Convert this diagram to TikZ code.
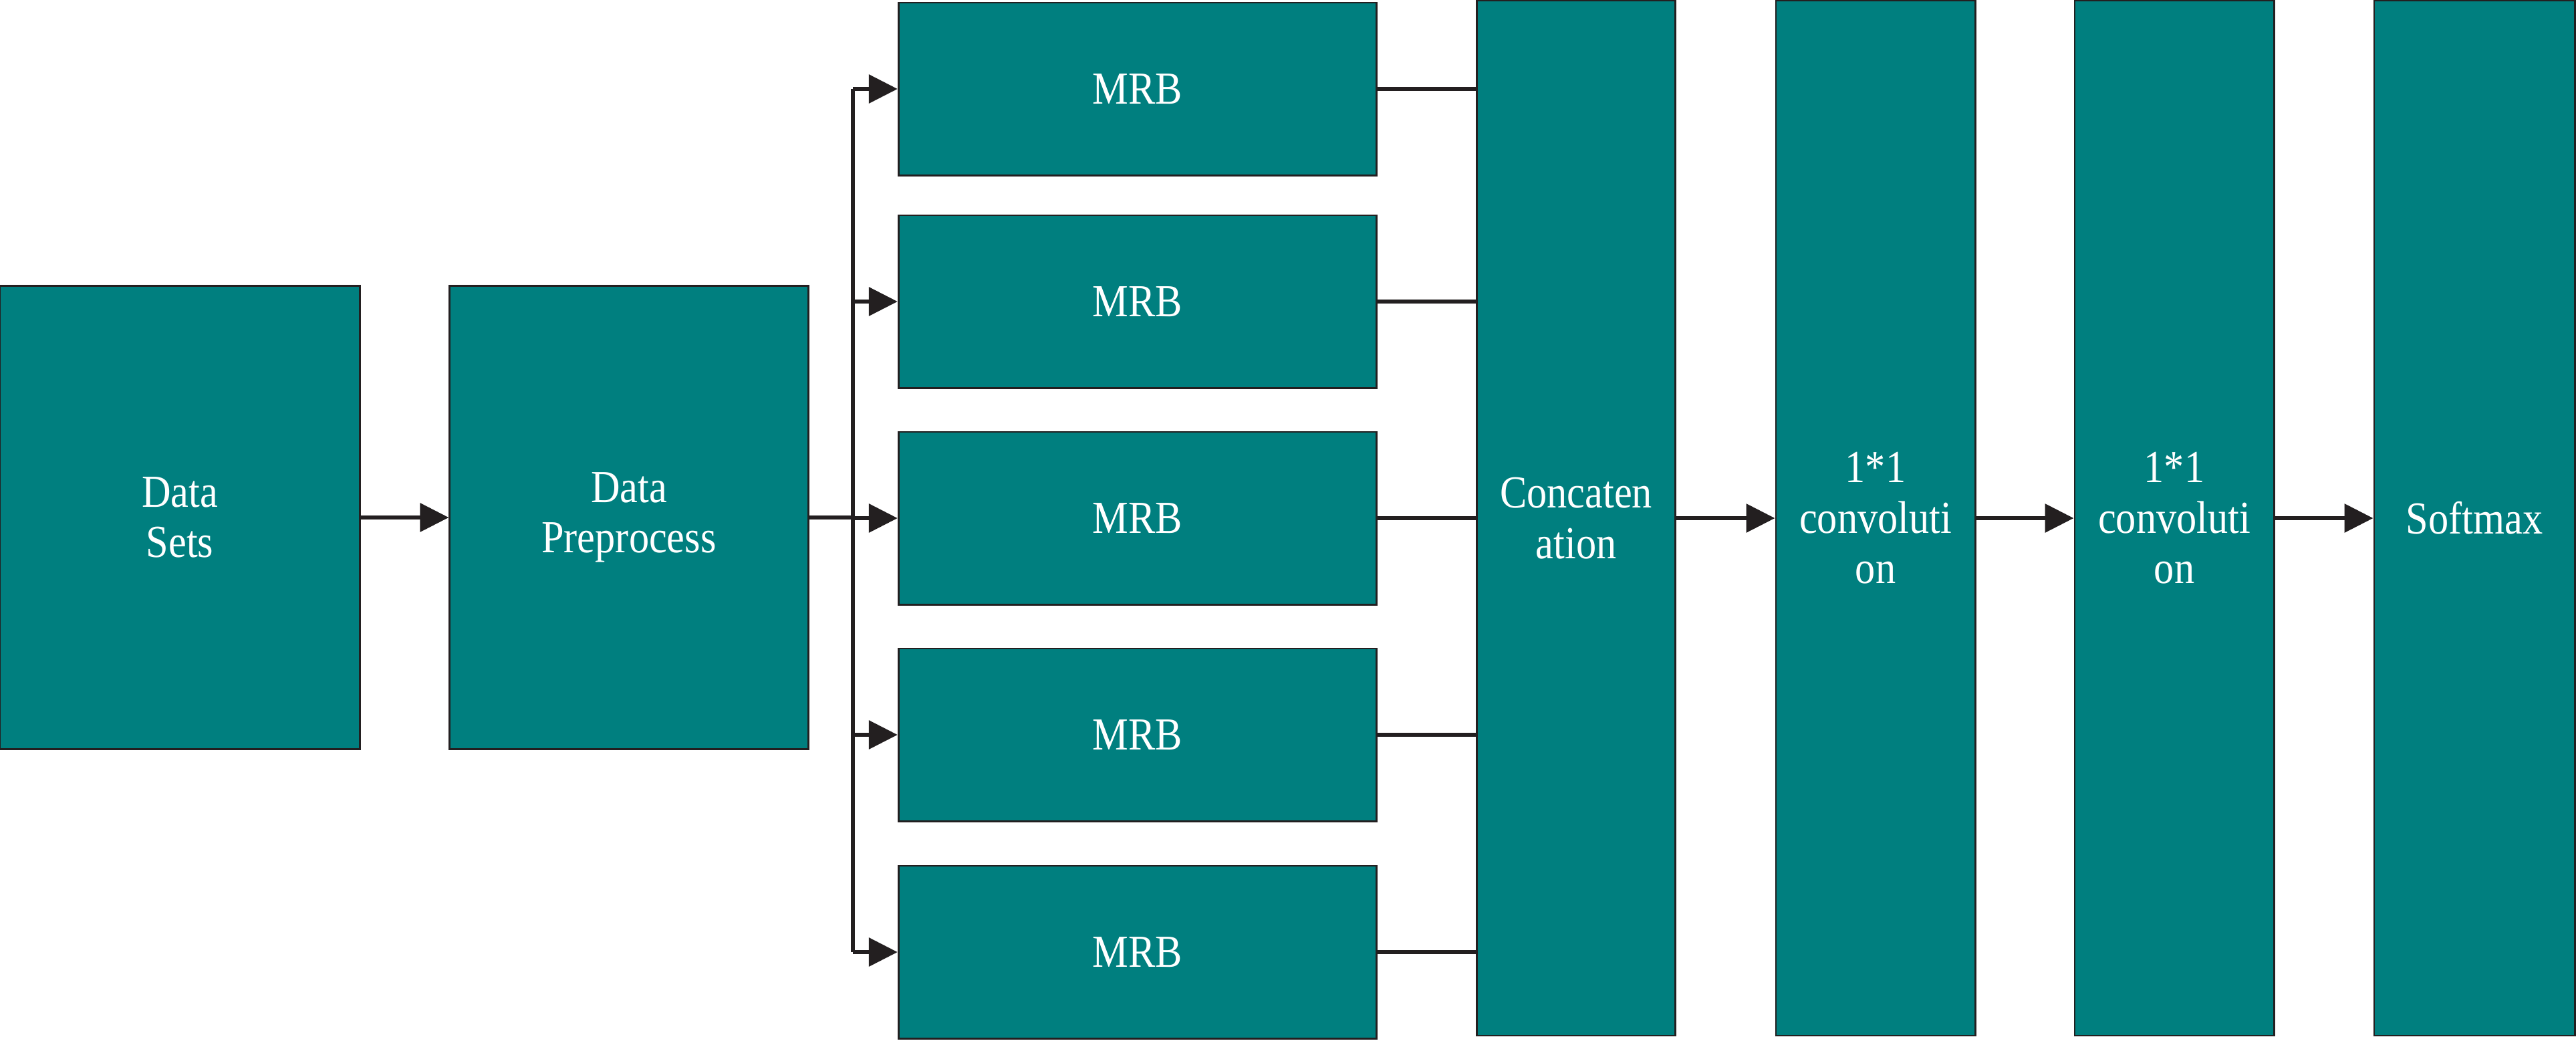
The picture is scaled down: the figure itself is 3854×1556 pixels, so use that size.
\documentclass[tikz,border=0pt]{standalone}
\usepackage{fontspec}
\setmainfont{Liberation Serif}
\newfontfamily\boxfont[FakeStretch=0.88]{Liberation Serif}
\usetikzlibrary{arrows.meta}
\definecolor{tealbox}{RGB}{0,127,127}
\definecolor{lineblk}{RGB}{35,31,32}
\begin{document}
\begin{tikzpicture}[x=0.01cm,y=-0.01cm,
  box/.style={draw=lineblk,line width=0.8pt,fill=tealbox,text=white,inner sep=0pt,align=center,
    font=\boxfont\fontsize{19.5}{21.5}\selectfont},
  conn/.style={draw=lineblk,line width=1.8pt},
  arr/.style={conn,-{Triangle[length=0.43cm,width=0.42cm]}}]
\useasboundingbox (0,0) rectangle (3854,1556);
\node[box,minimum width=5.38cm,minimum height=6.93cm] (ds) at (269,774) {Data\\Sets};
\node[box,minimum width=5.36cm,minimum height=6.93cm] (pre) at (941,774) {Data\\Preprocess};
\node[box,minimum width=7.15cm,minimum height=2.58cm] (m1) at (1702,133) {MRB};
\node[box,minimum width=7.15cm,minimum height=2.58cm] (m2) at (1702,451) {MRB};
\node[box,minimum width=7.15cm,minimum height=2.58cm] (m3) at (1702,775) {MRB};
\node[box,minimum width=7.15cm,minimum height=2.58cm] (m4) at (1702,1099) {MRB};
\node[box,minimum width=7.15cm,minimum height=2.58cm] (m5) at (1702,1424) {MRB};
\node[box,minimum width=2.97cm,minimum height=15.47cm] (cat) at (2358,775) {Concaten\\ation};
\node[box,minimum width=2.98cm,minimum height=15.47cm] (c1) at (2806,775) {1*1\\convoluti\\on};
\node[box,minimum width=2.98cm,minimum height=15.47cm] (c2) at (3253,775) {1*1\\convoluti\\on};
\node[box,minimum width=3.00cm,minimum height=15.47cm] (sm) at (3702,775) {Softmax};
\coordinate (jt) at (1276,133);
\coordinate (jb) at (1276,1424);
\draw[arr] (ds.east) -- (pre.west);
\draw[conn] (pre.east) -- (jt |- pre.east);
\draw[conn] (jt) -- (jb);
\foreach \m in {m1,m2,m3,m4,m5}{
  \draw[arr] (jt |- \m.west) -- (\m.west);
  \draw[conn] (\m.east) -- (\m.east -| cat.west);
}
\draw[arr] (cat.east) -- (c1.west);
\draw[arr] (c1.east) -- (c2.west);
\draw[arr] (c2.east) -- (sm.west);
\end{tikzpicture}
\end{document}
